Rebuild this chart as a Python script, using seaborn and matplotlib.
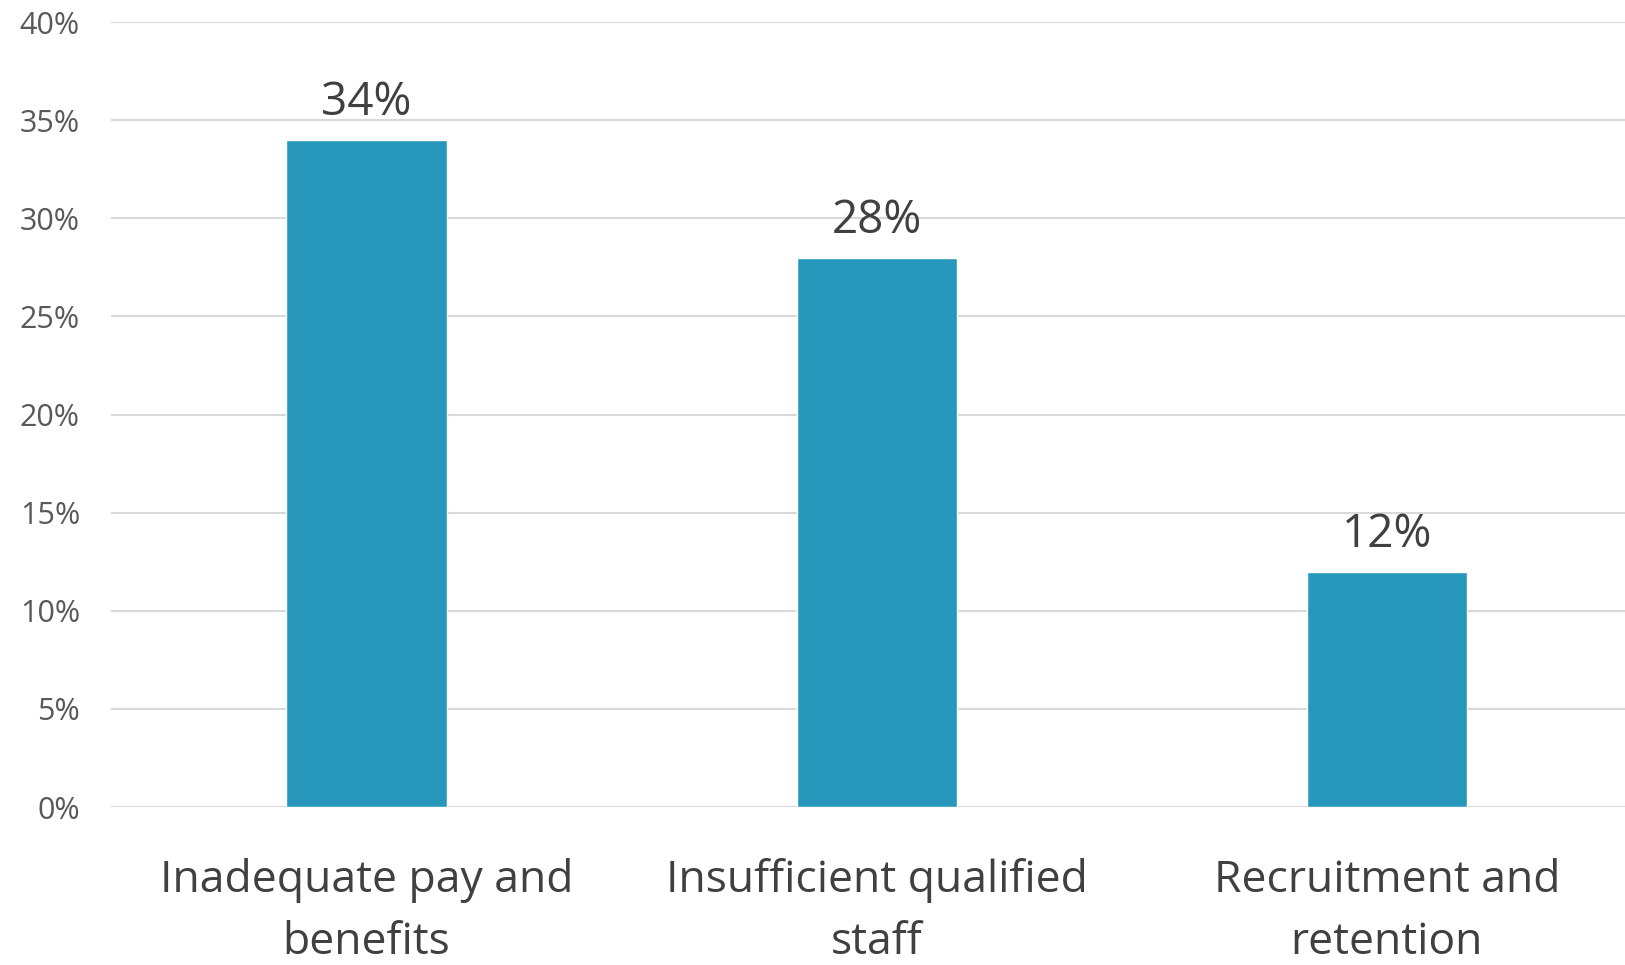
import matplotlib
matplotlib.use("Agg")
import matplotlib.pyplot as plt
import seaborn as sns
import pandas as pd
from matplotlib.ticker import FuncFormatter

categories = ["Inadequate pay and\nbenefits", "Insufficient qualified\nstaff", "Recruitment and\nretention"]
values = [34, 28, 12]
yticks = [0, 5, 10, 15, 20, 25, 30, 35, 40]

sns.set_theme(style="white")
plt.rcParams['font.family'] = ['Open Sans', 'DejaVu Sans']

df = pd.DataFrame({"category": categories, "value": values})

fig = plt.figure(figsize=(16.25, 9.65), dpi=100)
ax = fig.add_axes([0.068, 0.1637, 0.932, 0.8135])

sns.barplot(data=df, x="category", y="value", color="#2798BB", width=0.314,
            saturation=1, ax=ax, zorder=3)

ax.set_ylim(0, 40)
ax.set_xlim(-0.502, 2.467)
ax.set_yticks(yticks)
ax.yaxis.set_major_formatter(FuncFormatter(lambda v, p: f"{int(v)}%"))
ax.grid(axis="y", color="#D9D9D9", linewidth=1.5, zorder=0)
ax.set_axisbelow(True)
for s in ax.spines.values():
    s.set_visible(False)
ax.set_xlabel("")
ax.set_ylabel("")
ax.tick_params(axis="y", labelsize=22, colors="#595959", length=0, pad=22)
ax.tick_params(axis="x", labelsize=32, colors="#404040", length=0, pad=37)
for lbl in ax.get_xticklabels():
    lbl.set_linespacing(1.52)

for c in ax.containers:
    ax.bar_label(c, labels=[f"{v}%" for v in values], padding=10,
                 fontsize=33, color="#404040")

fig.savefig("out.png", dpi=100)
